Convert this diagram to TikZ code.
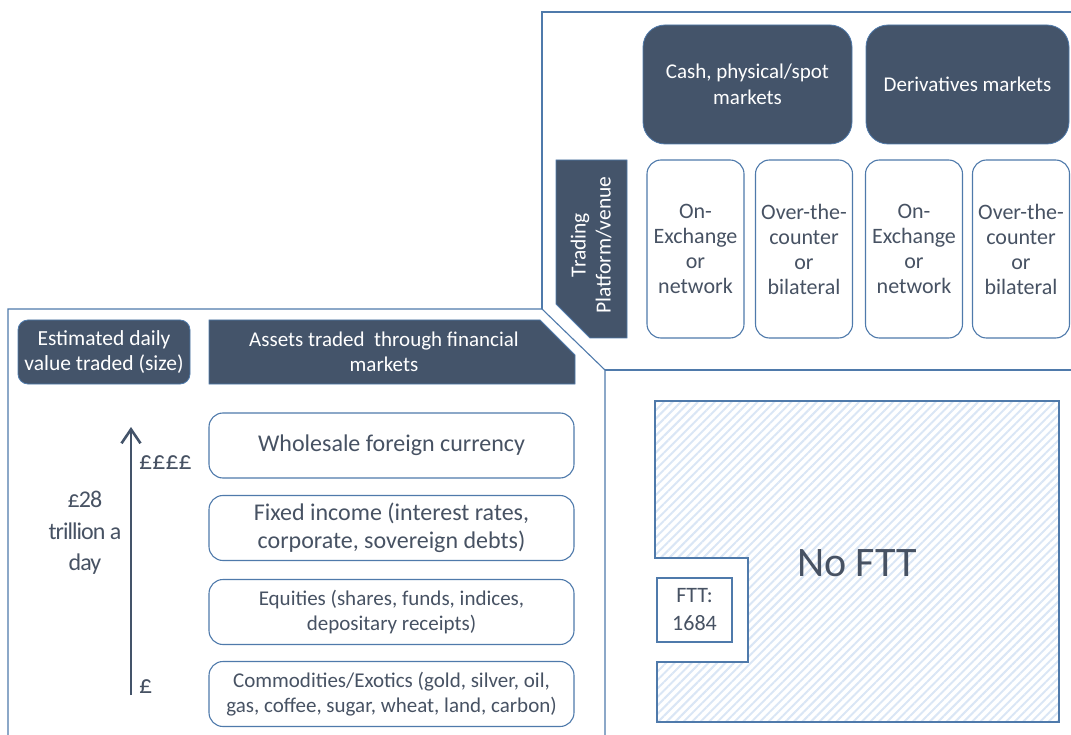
\documentclass[tikz,border=0pt]{standalone}
\usepackage{fontspec}
\setmainfont{Carlito}
\usetikzlibrary{arrows.meta,patterns.meta}
\definecolor{slate}{HTML}{44546A}
\definecolor{edgeblue}{HTML}{4F7AAB}
\definecolor{ink}{HTML}{475263}
\definecolor{hatchblue}{HTML}{DAE6F5}
\tikzset{
  frameline/.style={draw=edgeblue, line width=1.1pt},
  darkbox/.style={fill=slate, draw=edgeblue, line width=0.8pt, text=white, align=center, inner sep=0pt},
  lightbox/.style={fill=white, draw=edgeblue, line width=1.1pt, text=ink, align=center, inner sep=0pt, rounded corners=14pt},
  assetbox/.style={lightbox, minimum width=365pt, minimum height=65pt},
  venuebox/.style={lightbox, minimum width=97pt, minimum height=178pt},
  headtxt/.style={font=\fontsize{21}{26}\selectfont},
  venuetxt/.style={font=\fontsize{22}{25}\selectfont},
  smalltxt/.style={font=\fontsize{21}{25.5}\selectfont},
  pricetxt/.style={text=ink, font=\fontsize{26}{30}\selectfont, inner sep=0pt},
}
\begin{document}
\begin{tikzpicture}[x=1pt,y=-1pt]
\useasboundingbox (0,0) rectangle (1071,735);
% frame lines
\draw[frameline] (8,735) -- (8,309) -- (542,309) -- (605,370) -- (605,735);
\draw[frameline] (542,309) -- (542,12) -- (1071,12);
\draw[frameline] (605,370) -- (1071,370);
% market types
\node[darkbox, headtxt, rounded corners=22pt, minimum width=209pt, minimum height=119pt] (cash) at (747.5,84.5) {Cash, physical/spot\\markets};
\node[darkbox, headtxt, rounded corners=22pt, minimum width=203pt, minimum height=119pt] (deriv) at (967.5,84.5) {Derivatives markets};
% trading venue
\filldraw[fill=slate, draw=edgeblue, line width=0.8pt] (556,160) -- (627,160) -- (627,338) -- (590,338) -- (556,304) -- cycle;
\node[text=white, align=center, rotate=90, font=\fontsize{21.5}{25}\selectfont] (venue) at (591,245) {Trading\\Platform/venue};
\node[venuebox, venuetxt] (cashexch) at (695.5,249) {On-\\Exchange\\or\\network};
\node[venuebox, venuetxt] (cashotc) at (804,249) {Over-the-\\counter\\or\\bilateral};
\node[venuebox, venuetxt] (derivexch) at (914,249) {On-\\Exchange\\or\\network};
\node[venuebox, venuetxt] (derivotc) at (1021,249) {Over-the-\\counter\\or\\bilateral};
% asset classes
\node[darkbox, rounded corners=10pt, minimum width=172pt, minimum height=64pt, font=\fontsize{21.5}{25}\selectfont] (size) at (104,352) {Estimated daily\\value traded (size)};
\filldraw[fill=slate, draw=edgeblue, line width=0.8pt] (209,320) -- (540,320) -- (575,355) -- (575,384) -- (209,384) -- cycle;
\node[text=white, align=center, font=\fontsize{21}{25}\selectfont] (assets) at (384,352) {Assets traded\ \ through financial\\markets};
\node[assetbox, font=\fontsize{24}{28}\selectfont] (fx) at (391.5,445.5) {Wholesale foreign currency};
\node[assetbox, font=\fontsize{24}{28}\selectfont] (bonds) at (391.5,528) {Fixed income (interest rates,\\corporate, sovereign debts)};
\node[assetbox, smalltxt] (equity) at (391.5,612) {Equities (shares, funds, indices,\\depositary receipts)};
\node[assetbox, smalltxt] (commod) at (391.5,694) {Commodities/Exotics (gold, silver, oil,\\gas, coffee, sugar, wheat, land, carbon)};
% value scale
\coordinate (lowend) at (131,695);
\coordinate (highend) at (131,427);
\draw[slate, line width=2.6pt, -{Straight Barb[length=14pt, width=19pt]}] (lowend) -- (highend);
\node[pricetxt, anchor=base west] (high) at (139,469) {££££};
\node[pricetxt, anchor=base west] (low) at (139,693) {£};
\node[text=ink, align=center, font=\fontsize{24}{31.5}\selectfont\addfontfeature{LetterSpace=-4}] (total) at (85,533) {£28\\trillion a\\day};
% tax coverage
\draw[edgeblue, line width=1.1pt, pattern={Lines[angle=45, distance=6pt, line width=2pt]}, pattern color=hatchblue] (655,401) -- (1059,401) -- (1059,722) -- (657,722) -- (657,662) -- (748,662) -- (748,558) -- (655,558) -- cycle;
\node[lightbox, rounded corners=0pt, minimum width=75pt, minimum height=64pt, font=\fontsize{22}{28}\selectfont] (ftt) at (694.5,610) {FTT:\\1684};
\node[text=ink, font=\fontsize{42}{48}\selectfont] (noftt) at (857,563) {No FTT};
\end{tikzpicture}
\end{document}
